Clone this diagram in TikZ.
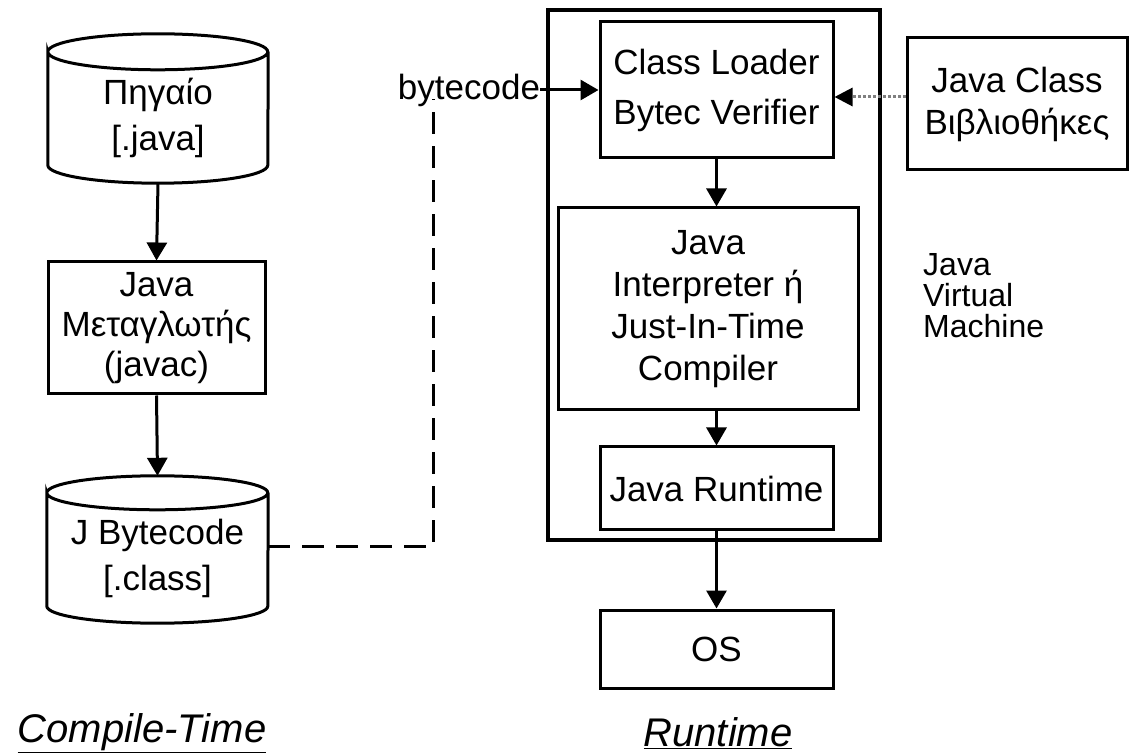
\documentclass[tikz,border=0pt]{standalone}
\usepackage{fontspec}
\setmainfont{Liberation Sans}
\usetikzlibrary{arrows.meta}
\begin{document}
\begin{tikzpicture}[x=1pt,y=1pt,>={Triangle[length=18pt,width=20pt]}]
	\tikzset{blk/.style={draw, line width=3pt, inner sep=0pt, align=center, font=\fontsize{35}{42}\selectfont},
		cyl/.style={inner sep=0pt, align=center, font=\fontsize{35}{46}\selectfont},
		lbl/.style={inner sep=0pt, font=\fontsize{40}{48}\selectfont\itshape},
		arr/.style={->, line width=3pt}}
	\useasboundingbox (0,0) rectangle (1130,753);
	\node[cyl, minimum width=220, minimum height=131] (src) at (158,635.5) {Πηγαίο\\{[.java]}};
	\draw[line width=3pt] (src.north west) arc[start angle=180,end angle=-180,x radius=110,y radius=18]
		-- ([yshift=18pt]src.south west) arc[start angle=180,end angle=360,x radius=110,y radius=18] -- (src.north east);
	\node[blk, minimum width=217, minimum height=132, font=\fontsize{35}{40}\selectfont] (javac) at (156.5,425) {Java\\Μεταγλωτής\\(javac)};
	\node[cyl, minimum width=221, minimum height=130] (cls) at (157.5,195) {J Bytecode\\{[.class]}};
	\draw[line width=3pt] (cls.north west) arc[start angle=180,end angle=-180,x radius=110.5,y radius=17]
		-- ([yshift=17pt]cls.south west) arc[start angle=180,end angle=360,x radius=110.5,y radius=17] -- (cls.north east);
	\draw[arr] (src.south) -- (javac.north);
	\draw[arr] (javac.south) -- ([yshift=17pt]cls.north);
	\node[draw, line width=3.5pt, minimum width=332, minimum height=530] (jvm) at (714,478) {};
	\node[blk, minimum width=233, minimum height=136, font=\fontsize{35}{50}\selectfont] (loader) at (716.5,663) {Class Loader\\Bytec Verifier};
	\node[blk, minimum width=300, minimum height=202] (interp) at (708,444) {Java\\Interpreter ή\\Just-In-Time\\Compiler};
	\node[blk, minimum width=233, minimum height=83] (runtime) at (716.5,264.5) {Java Runtime};
	\node[blk, minimum width=233, minimum height=78] (os) at (716.5,104) {OS};
	\node[blk, minimum width=220, minimum height=132] (lib) at (1017,649) {Java Class\\Βιβλιοθήκες};
	\node[inner sep=0pt, font=\fontsize{35}{42}\selectfont] (bc) at (469,663) {bytecode};
	\coordinate (bcfoot) at (433,654);
	\draw[line width=3pt, dash pattern=on 22pt off 12pt] ([yshift=11pt]cls.east) -| (bcfoot);
	\draw[arr] (bc.east) -- (loader.west);
	\draw[line width=3pt, gray, dash pattern=on 3pt off 2pt, -{Triangle[length=18pt,width=18pt,black]}] ([yshift=7pt]lib.west) -- ([yshift=-7pt]loader.east);
	\draw[arr] (loader.south) -- (loader.south |- interp.north);
	\draw[arr] (interp.south -| runtime.north) -- (runtime.north);
	\draw[arr] (runtime.south) -- (os.north);
	\node[anchor=west, inner sep=0pt, align=left, font=\fontsize{32}{31}\selectfont] (jvmlbl) at (923,457) {Java\\Virtual\\Machine};
	\node[lbl] (ct) at (142,20) {\underline{Compile-Time}};
	\node[lbl] (rt) at (718,20) {\underline{Runtime}};
\end{tikzpicture}
\end{document}
